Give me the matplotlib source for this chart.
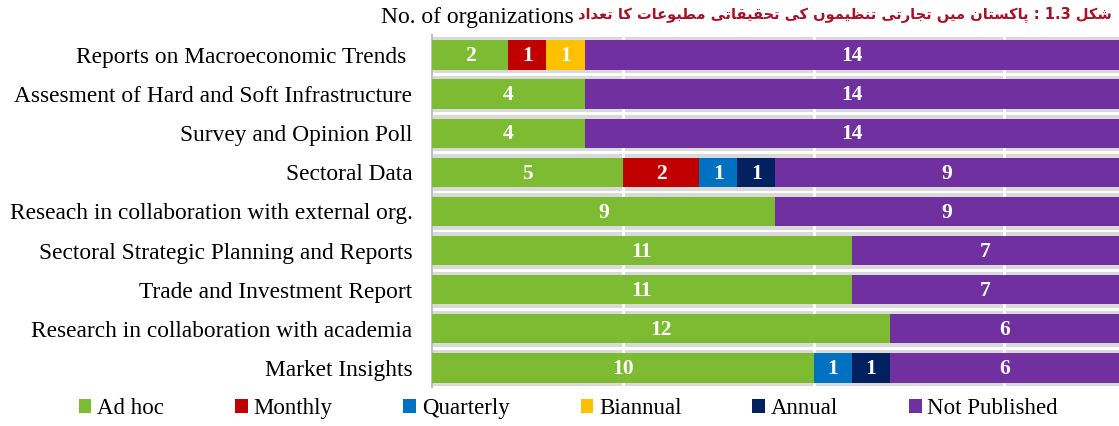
import numpy as np
import matplotlib
matplotlib.use("Agg")
from matplotlib import pyplot as plt
from matplotlib.patches import Patch

categories = [
    "Reports on Macroeconomic Trends ",
    "Assesment of Hard and Soft Infrastructure",
    "Survey and Opinion Poll",
    "Sectoral Data",
    "Reseach in collaboration with external org.",
    "Sectoral Strategic Planning and Reports",
    "Trade and Investment Report",
    "Research in collaboration with academia",
    "Market Insights",
]
ad_hoc = [2, 4, 4, 5, 9, 11, 11, 12, 10]
monthly = [1, 0, 0, 2, 0, 0, 0, 0, 0]
quarterly = [0, 0, 0, 1, 0, 0, 0, 0, 1]
biannual = [1, 0, 0, 0, 0, 0, 0, 0, 0]
annual = [0, 0, 0, 1, 0, 0, 0, 0, 1]
not_published = [14, 14, 14, 9, 9, 7, 7, 6, 6]

series_names = ["Ad hoc", "Monthly", "Quarterly", "Biannual", "Annual", "Not Published"]
colors = ["#7dbb32", "#c00000", "#0070c0", "#ffc000", "#002060", "#7030a0"]

title_words = ["شکل", "1.3", ":", "پاکستان", "میں", "تجارتی", "تنظیموں", "کی",
               "تحقیقاتی", "مطبوعات", "کا", "تعداد"]

# tiny arabic shaper: (isolated, final, initial, medial); 2-tuple = right joining only
FORMS = {
    "ا": (0xFE8D, 0xFE8E), "د": (0xFEA9, 0xFEAA), "ر": (0xFEAD, 0xFEAE),
    "و": (0xFEED, 0xFEEE), "ں": (0xFB9E, 0xFB9F),
    "ب": (0xFE8F, 0xFE90, 0xFE91, 0xFE92), "پ": (0xFB56, 0xFB57, 0xFB58, 0xFB59),
    "ت": (0xFE95, 0xFE96, 0xFE97, 0xFE98), "ج": (0xFE9D, 0xFE9E, 0xFE9F, 0xFEA0),
    "ح": (0xFEA1, 0xFEA2, 0xFEA3, 0xFEA4), "س": (0xFEB1, 0xFEB2, 0xFEB3, 0xFEB4),
    "ش": (0xFEB5, 0xFEB6, 0xFEB7, 0xFEB8), "ط": (0xFEC1, 0xFEC2, 0xFEC3, 0xFEC4),
    "ظ": (0xFEC5, 0xFEC6, 0xFEC7, 0xFEC8), "ع": (0xFEC9, 0xFECA, 0xFECB, 0xFECC),
    "ق": (0xFED5, 0xFED6, 0xFED7, 0xFED8), "ک": (0xFB8E, 0xFB8F, 0xFB90, 0xFB91),
    "ل": (0xFEDD, 0xFEDE, 0xFEDF, 0xFEE0), "م": (0xFEE1, 0xFEE2, 0xFEE3, 0xFEE4),
    "ن": (0xFEE5, 0xFEE6, 0xFEE7, 0xFEE8), "ی": (0xFBFC, 0xFBFD, 0xFBFE, 0xFBFF),
}


def shape(word):
    if not all(c in FORMS for c in word):
        return word
    out = []
    for i, c in enumerate(word):
        f = FORMS[c]
        prev = i > 0 and len(FORMS[word[i - 1]]) == 4
        nxt = i < len(word) - 1 and len(f) == 4
        if prev and nxt:
            g = f[3]
        elif nxt:
            g = f[2]
        elif prev:
            g = f[1]
        else:
            g = f[0]
        out.append(chr(g))
    return "".join(out[::-1])


plt.rcParams["font.family"] = ["Liberation Serif", "DejaVu Serif"]

fig = plt.figure(figsize=(11.19, 4.26), dpi=100)
ax = fig.add_axes([0.386, 0.0904, 0.614, 0.8263])

y = np.arange(len(categories))
data = [ad_hoc, monthly, quarterly, biannual, annual, not_published]
totals = np.sum(data, axis=0)

ax.barh(y, totals, height=0.93, color="#d9d9d9", zorder=1)
for gx in [5, 10, 15]:
    ax.axvline(gx, color="white", lw=2, zorder=2)

left = np.zeros(len(categories))
for vals, col in zip(data, colors):
    vals = np.array(vals)
    ax.barh(y, vals, left=left, height=0.75, color=col, zorder=3)
    for yi, (l, v) in enumerate(zip(left, vals)):
        if v > 0:
            ax.text(l + v / 2, yi + 0.03, str(v), ha="center", va="center",
                    color="white", fontsize=15.5, fontweight="bold", zorder=4)
    left += vals

ax.set_xlim(0, 18)
ax.set_ylim(len(categories) - 0.5, -0.5)
ax.set_yticks(y)
ax.set_yticklabels(categories, fontsize=16.8)
ax.tick_params(axis="y", length=0, pad=14)
ax.set_xticks([])
for s in ["top", "right", "bottom"]:
    ax.spines[s].set_visible(False)
ax.spines["left"].set_color("#bfbfbf")
ax.spines["left"].set_linewidth(1.5)

fig.text(0.427, 0.958, "No. of organizations", ha="center", va="center", fontsize=17)

# words come out in reversed order when drawn, so feed them back to front
title = " ".join(shape(w) for w in title_words[::-1])
fig.text(0.994, 0.966, title, ha="right", va="center", fontsize=10.5,
         fontweight="bold", color="#a5122a", family=["DejaVu Sans"])

handles = [Patch(facecolor=c, edgecolor="none") for c in colors]
fig.legend(handles, series_names, loc="center", bbox_to_anchor=(0.508, 0.04),
           ncol=6, frameon=False, fontsize=16.5, handlelength=0.55, handleheight=0.55,
           handletextpad=0.25, columnspacing=3.1)

plt.savefig("out.png", dpi=100)
plt.close()
